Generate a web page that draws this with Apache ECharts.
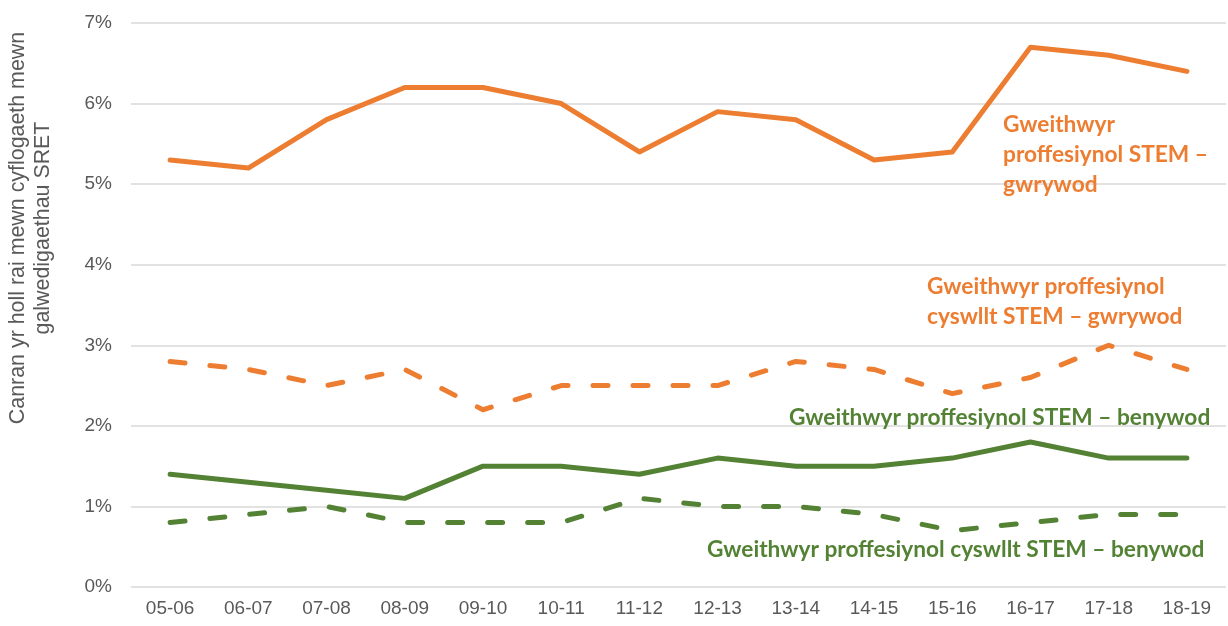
<!DOCTYPE html>
<html>
<head>
<meta charset="utf-8">
<script src="https://cdn.jsdelivr.net/npm/echarts@6/dist/echarts.min.js"></script>
<style>
  html, body { margin: 0; padding: 0; background: #fff; }
  #chart { width: 1228px; height: 626px; }
</style>
</head>
<body>
<div id="chart"></div>
<script>
// Academic years
const categories = ['05-06','06-07','07-08','08-09','09-10','10-11','11-12','12-13','13-14','14-15','15-16','16-17','17-18','18-19'];

// Share of all in employment in SRET occupations (%)
const stemProMale      = [5.3, 5.2, 5.8, 6.2, 6.2, 6.0, 5.4, 5.9, 5.8, 5.3, 5.4, 6.7, 6.6, 6.4];
const stemAssocMale    = [2.8, 2.7, 2.5, 2.7, 2.2, 2.5, 2.5, 2.5, 2.8, 2.7, 2.4, 2.6, 3.0, 2.7];
const stemProFemale    = [1.4, 1.3, 1.2, 1.1, 1.5, 1.5, 1.4, 1.6, 1.5, 1.5, 1.6, 1.8, 1.6, 1.6];
const stemAssocFemale  = [0.8, 0.9, 1.0, 0.8, 0.8, 0.8, 1.1, 1.0, 1.0, 0.9, 0.7, 0.8, 0.9, 0.9];

const seriesNames = [
  'Gweithwyr proffesiynol STEM – gwrywod',
  'Gweithwyr proffesiynol cyswllt STEM – gwrywod',
  'Gweithwyr proffesiynol STEM – benywod',
  'Gweithwyr proffesiynol cyswllt STEM – benywod'
];

const yTitle = ['Canran yr holl rai mewn cyflogaeth mewn', 'galwedigaethau SRET'];

const ORANGE = '#ED7D31';
const GREEN = '#548235';
const AXIS_TEXT = '#595959';
const AXIS_FONT = '"Liberation Sans", Arial, sans-serif';
const LABEL_FONT = 'Lato, "Open Sans", sans-serif';

function line(name, data, color, dashed) {
  return {
    name: name,
    type: 'line',
    data: data,
    symbol: 'none',
    smooth: false,
    lineStyle: {
      color: color,
      width: 5,
      type: dashed ? [15, 25] : 'solid',
      cap: 'round',
      join: 'round'
    },
    z: dashed ? 3 : 4
  };
}

// Series name written next to its line, one text element per line of text
function label(lines, x, yMid, color) {
  return lines.map((t, i) => ({
    type: 'text',
    x: x,
    y: yMid + i * 30,
    style: {
      text: t,
      fill: color,
      font: 'bold 22.7px ' + LABEL_FONT,
      align: 'left',
      verticalAlign: 'middle'
    },
    z: 10
  }));
}

const chart = echarts.init(document.getElementById('chart'), null, { renderer: 'canvas' });

chart.setOption({
  animation: false,
  backgroundColor: '#ffffff',
  grid: { left: 131, right: 2, top: 23, bottom: 39, containLabel: false },
  xAxis: {
    type: 'category',
    data: categories,
    boundaryGap: true,
    axisLine: { show: false },
    axisTick: { show: false },
    axisLabel: {
      color: AXIS_TEXT,
      fontSize: 19,
      fontFamily: AXIS_FONT,
      margin: 12
    }
  },
  yAxis: {
    type: 'value',
    min: 0,
    max: 7,
    interval: 1,
    axisLine: { show: false },
    axisTick: { show: false },
    axisLabel: {
      color: AXIS_TEXT,
      fontSize: 19,
      fontFamily: AXIS_FONT,
      margin: 19,
      formatter: v => v + '%'
    },
    splitLine: { lineStyle: { color: '#D9D9D9', width: 1.5 } }
  },
  series: [
    line(seriesNames[0], stemProMale, ORANGE, false),
    line(seriesNames[1], stemAssocMale, ORANGE, true),
    line(seriesNames[2], stemProFemale, GREEN, false),
    line(seriesNames[3], stemAssocFemale, GREEN, true)
  ],
  graphic: [
    {
      type: 'text',
      x: 30.5,
      y: 228,
      rotation: Math.PI / 2,
      style: {
        text: yTitle.join('\n'),
        fill: AXIS_TEXT,
        font: '21.4px ' + AXIS_FONT,
        align: 'center',
        verticalAlign: 'middle',
        lineHeight: 25
      }
    },
    ...label(['Gweithwyr', 'proffesiynol STEM –', 'gwrywod'], 1003, 125, ORANGE),
    ...label(['Gweithwyr proffesiynol', 'cyswllt STEM – gwrywod'], 927, 287, ORANGE),
    ...label(['Gweithwyr proffesiynol STEM – benywod'], 789, 418, GREEN),
    ...label(['Gweithwyr proffesiynol cyswllt STEM – benywod'], 707, 550, GREEN)
  ]
});
</script>
</body>
</html>
